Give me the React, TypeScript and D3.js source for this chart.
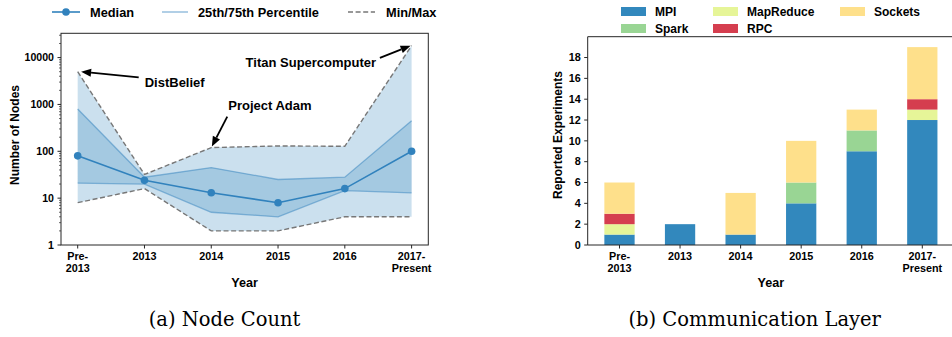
import React from "react";
import * as d3 from "d3";

// ---------- data ----------
const categories: string[][] = [["Pre-", "2013"], ["2013"], ["2014"], ["2015"], ["2016"], ["2017-", "Present"]];

const medianNodes = [80, 24, 13, 8, 16, 100];
const p25Nodes = [21, 20, 5, 4, 14.5, 13];
const p75Nodes = [800, 28, 45, 25, 28, 450];
const minNodes = [8, 16, 2, 2, 4, 4];
const maxNodes = [5000, 32, 120, 130, 128, 18000];

const logTicks = [1, 10, 100, 1000, 10000];

const commKeys = ["MPI", "Spark", "MapReduce", "RPC", "Sockets"];
const mpi = [1, 2, 1, 4, 9, 12];
const spark = [0, 0, 0, 2, 2, 0];
const mapReduce = [1, 0, 0, 0, 0, 1];
const rpc = [1, 0, 0, 0, 0, 1];
const sockets = [3, 0, 4, 4, 2, 5];
const barTicks = [0, 2, 4, 6, 8, 10, 12, 14, 16, 18];

const annotations = [
  { label: "DistBelief", index: 0, series: "max" },
  { label: "Project Adam", index: 2, series: "max" },
  { label: "Titan Supercomputer", index: 5, series: "max" },
];

// ---------- styles / layout ----------
const FONT = "'Liberation Sans', Arial, sans-serif";
const SERIF = "'DejaVu Serif', serif";
const BLUE = "#3182bd";
const commColors: Record<string, string> = {
  MPI: "#3288bd",
  Spark: "#99d594",
  MapReduce: "#e6f598",
  RPC: "#d53e4f",
  Sockets: "#fee08b",
};
// annotation layout: text anchor (px offset from point), arrow tail offset, arrow tip offset
const annLayout = [
  { tx: 67, ty: 15, tail: [61, 5.7], tip: [3.4, 0] },
  { tx: 17, ty: -38, tail: [16, -31], tip: [0.6, -1] },
  { tx: -166, ty: 21, tail: [-31.7, 12.3], tip: [-1, 0] },
];

function Arrow({ x1, y1, x2, y2 }: { x1: number; y1: number; x2: number; y2: number }) {
  const ang = Math.atan2(y2 - y1, x2 - x1);
  const L = 10, W = 4;
  const bx = x2 - L * Math.cos(ang), by = y2 - L * Math.sin(ang);
  const px = -Math.sin(ang) * W, py = Math.cos(ang) * W;
  return (
    <g>
      <line x1={x1} y1={y1} x2={bx} y2={by} stroke="#000" strokeWidth={1.8} />
      <polygon points={`${x2},${y2} ${bx + px},${by + py} ${bx - px},${by - py}`} fill="#000" />
    </g>
  );
}

function NodeChart() {
  const x = d3.scaleLinear().domain([-0.25, 5.25]).range([61, 428.3]);
  const y = d3.scaleLog().domain([1, 33000]).range([245, 33.3]);
  const idx = d3.range(medianNodes.length);
  const band = (lo: number[], hi: number[]) =>
    d3.area<number>().x((i) => x(i)).y0((i) => y(lo[i])).y1((i) => y(hi[i]))(idx) || "";
  const line = (v: number[]) => d3.line<number>().x((i) => x(i)).y((i) => y(v[i]))(idx) || "";
  const minor: number[] = [];
  logTicks.forEach((d) => {
    for (let k = 2; k <= 9; k++) if (d * k <= 33000) minor.push(d * k);
  });
  const [x0, x1] = x.range();
  const [yb, yt] = y.range();
  return (
    <g fontFamily={FONT} fontWeight="bold">
      {/* legend */}
      <g fontSize={12.8}>
        <line x1={52} x2={80} y1={12} y2={12} stroke={BLUE} strokeWidth={1.6} />
        <circle cx={66} cy={12} r={3.8} fill={BLUE} />
        <text x={90} y={16.5}>Median</text>
        <line x1={162} x2={188} y1={12} y2={12} stroke={BLUE} strokeOpacity={0.5} strokeWidth={1.5} />
        <text x={198} y={16.5}>25th/75th Percentile</text>
        <line x1={348} x2={375} y1={12} y2={12} stroke="#777" strokeWidth={1.4} strokeDasharray="5,2.6" />
        <text x={386} y={16.5}>Min/Max</text>
      </g>
      <path d={band(minNodes, maxNodes)} fill={BLUE} fillOpacity={0.25} />
      <path d={band(p25Nodes, p75Nodes)} fill={BLUE} fillOpacity={0.25} />
      <path d={line(p25Nodes)} fill="none" stroke={BLUE} strokeOpacity={0.5} strokeWidth={1.3} />
      <path d={line(p75Nodes)} fill="none" stroke={BLUE} strokeOpacity={0.5} strokeWidth={1.3} />
      <path d={line(minNodes)} fill="none" stroke="#777" strokeWidth={1.4} strokeDasharray="5,2.6" />
      <path d={line(maxNodes)} fill="none" stroke="#777" strokeWidth={1.4} strokeDasharray="5,2.6" />
      <path d={line(medianNodes)} fill="none" stroke={BLUE} strokeWidth={1.6} />
      {idx.map((i) => (
        <circle key={i} cx={x(i)} cy={y(medianNodes[i])} r={3.8} fill={BLUE} />
      ))}
      {/* frame */}
      <rect x={x0} y={yt} width={x1 - x0} height={yb - yt} fill="none" stroke="#262626" strokeWidth={1} />
      {/* y ticks */}
      {minor.map((v) => (
        <line key={"m" + v} x1={x0} x2={x0 - 2} y1={y(v)} y2={y(v)} stroke="#262626" strokeWidth={0.7} />
      ))}
      {logTicks.map((v) => (
        <g key={v}>
          <line x1={x0} x2={x0 - 3.5} y1={y(v)} y2={y(v)} stroke="#262626" strokeWidth={1} />
          <text x={x0 - 7} y={y(v)} dy="0.35em" textAnchor="end" fontSize={10.6}>
            {v}
          </text>
        </g>
      ))}
      {/* x ticks */}
      {categories.map((c, i) => (
        <g key={i}>
          <line x1={x(i)} x2={x(i)} y1={yb} y2={yb + 3.5} stroke="#262626" strokeWidth={1} />
          {c.map((t, j) => (
            <text key={j} x={x(i)} y={yb + 15 + j * 11.8} textAnchor="middle" fontSize={10.8}>
              {t}
            </text>
          ))}
        </g>
      ))}
      <text x={(x0 + x1) / 2} y={286.7} textAnchor="middle" fontSize={12.6}>
        Year
      </text>
      <text transform={`translate(19,135) rotate(-90)`} textAnchor="middle" fontSize={12}>
        Number of Nodes
      </text>
      {/* annotations */}
      {annotations.map((a, k) => {
        const px = x(a.index);
        const py = y(maxNodes[a.index]);
        const L = annLayout[k];
        return (
          <g key={a.label}>
            <Arrow x1={px + L.tail[0]} y1={py + L.tail[1]} x2={px + L.tip[0]} y2={py + L.tip[1]} />
            <text x={px + L.tx} y={py + L.ty} fontSize={13}>
              {a.label}
            </text>
          </g>
        );
      })}
      <text x={224.5} y={325.7} textAnchor="middle" fontFamily={SERIF} fontWeight="normal" fontSize={19.5}>
        (a) Node Count
      </text>
    </g>
  );
}

function CommChart() {
  const x = d3.scaleLinear().domain([-0.525, 5.525]).range([587.7, 954.1]);
  const y = d3.scaleLinear().domain([0, 20]).range([245, 36.7]);
  const series: Record<string, number[]> = { MPI: mpi, Spark: spark, MapReduce: mapReduce, RPC: rpc, Sockets: sockets };
  const table = categories.map((_, i) => {
    const row: Record<string, number> = { i };
    commKeys.forEach((k) => (row[k] = series[k][i]));
    return row;
  });
  const stacked = d3.stack<Record<string, number>>().keys(commKeys)(table);
  const bw = x(0.25) - x(-0.25);
  const [x0, x1] = x.range();
  const [yb, yt] = y.range();
  const legendPos = [
    { k: "MPI", px: 621, row: 0 },
    { k: "Spark", px: 621, row: 1 },
    { k: "MapReduce", px: 713, row: 0 },
    { k: "RPC", px: 713, row: 1 },
    { k: "Sockets", px: 840, row: 0 },
  ];
  return (
    <g fontFamily={FONT} fontWeight="bold">
      {stacked.map((s) =>
        s.map((d, i) =>
          d[1] - d[0] > 0 ? (
            <rect key={s.key + i} x={x(i) - bw / 2} width={bw} y={y(d[1])} height={y(d[0]) - y(d[1])} fill={commColors[s.key]} />
          ) : null
        )
      )}
      <line x1={x0} x2={x1} y1={yt} y2={yt} stroke="#262626" strokeWidth={1} />
      <line x1={x0} x2={x1} y1={yb} y2={yb} stroke="#262626" strokeWidth={1} />
      <line x1={x0} x2={x0} y1={yt} y2={yb} stroke="#262626" strokeWidth={1} />
      {barTicks.map((v) => (
        <g key={v}>
          <line x1={x0} x2={x0 - 3.5} y1={y(v)} y2={y(v)} stroke="#262626" strokeWidth={1} />
          <text x={x0 - 7} y={y(v)} dy="0.35em" textAnchor="end" fontSize={10.8}>
            {v}
          </text>
        </g>
      ))}
      {categories.map((c, i) => (
        <g key={i}>
          <line x1={x(i)} x2={x(i)} y1={yb} y2={yb + 3.5} stroke="#262626" strokeWidth={1} />
          {c.map((t, j) => (
            <text key={j} x={x(i)} y={yb + 15 + j * 11.8} textAnchor="middle" fontSize={10.8}>
              {t}
            </text>
          ))}
        </g>
      ))}
      <text x={(x0 + x1) / 2} y={286.7} textAnchor="middle" fontSize={12.6}>
        Year
      </text>
      <text transform={`translate(562,135) rotate(-90)`} textAnchor="middle" fontSize={12}>
        Reported Experiments
      </text>
      <g fontSize={12}>
        {legendPos.map((l) => (
          <g key={l.k}>
            <rect x={l.px} y={7 + l.row * 17} width={25} height={9} fill={commColors[l.k]} />
            <text x={l.px + 34} y={16 + l.row * 17}>
              {l.k}
            </text>
          </g>
        ))}
      </g>
      <text x={754.7} y={325.7} textAnchor="middle" fontFamily={SERIF} fontWeight="normal" fontSize={19.5}>
        (b) Communication Layer
      </text>
    </g>
  );
}

export default function App() {
  return (
    <svg
      width={952}
      height={337}
      viewBox="0 0 952 337"
      style={{ position: "absolute", left: 0, top: 0, background: "#fff" }}
    >
      <rect width={952} height={337} fill="#fff" />
      <NodeChart />
      <CommChart />
    </svg>
  );
}
